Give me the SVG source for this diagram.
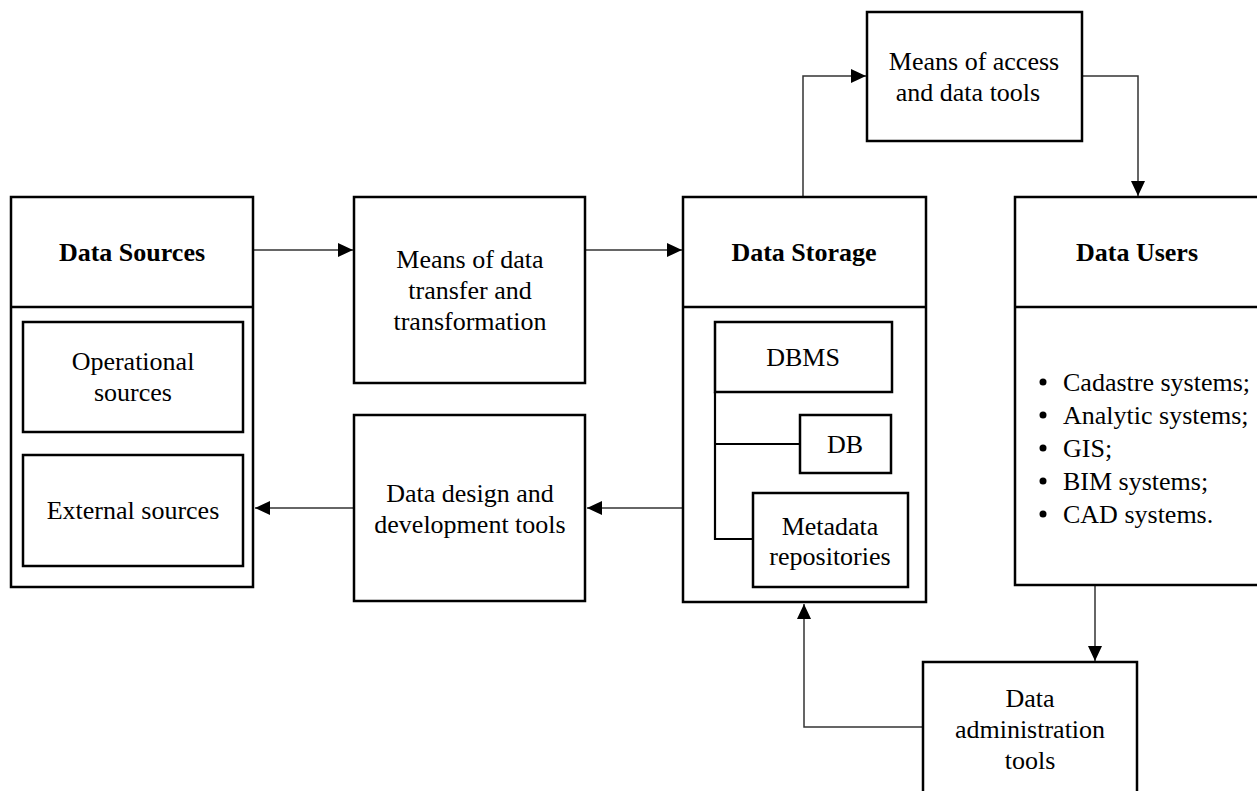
<svg xmlns="http://www.w3.org/2000/svg" width="1257" height="791" viewBox="0 0 1257 791">
<style>
.box{fill:#fff;stroke:#000;stroke-width:2.5}
.div{stroke:#000;stroke-width:2.5;fill:none}
.tree{stroke:#000;stroke-width:2.2;fill:none}
.con{stroke:#333;stroke-width:1.5;fill:none}
text{font-family:"Liberation Serif","Times New Roman",serif;font-size:26px;fill:#000}
.c{text-anchor:middle}
.b{font-weight:bold}
</style>
<defs>
<marker id="ah" markerUnits="userSpaceOnUse" markerWidth="16" markerHeight="16" viewBox="0 0 16 16" refX="15" refY="8" orient="auto">
<path d="M0,1 L15,8 L0,15 Z" fill="#000"/>
</marker>
</defs>
<rect width="1257" height="791" fill="#fff"/>
<g id="connectors">
<line class="con" x1="253" y1="250" x2="353" y2="250" marker-end="url(#ah)"/>
<line class="con" x1="585" y1="250" x2="682" y2="250" marker-end="url(#ah)"/>
<line class="con" x1="683" y1="508" x2="587" y2="508" marker-end="url(#ah)"/>
<line class="con" x1="354" y1="508" x2="255" y2="508" marker-end="url(#ah)"/>
<polyline class="con" points="803,197 803,76 866,76" marker-end="url(#ah)"/>
<polyline class="con" points="1082,76 1138,76 1138,196" marker-end="url(#ah)"/>
<line class="con" x1="1095" y1="586" x2="1095" y2="661" marker-end="url(#ah)"/>
<polyline class="con" points="923,727 804,727 804,604" marker-end="url(#ah)"/>
</g>
<g id="data-sources">
<rect class="box" x="11" y="197" width="242" height="390"/>
<line class="div" x1="11" y1="307" x2="253" y2="307"/>
<text class="c b" x="132" y="261">Data Sources</text>
</g>
<g id="operational-sources">
<rect class="box" x="23" y="322" width="220" height="110"/>
<text class="c" x="133" y="370">Operational</text>
<text class="c" x="133" y="401">sources</text>
</g>
<g id="external-sources">
<rect class="box" x="23" y="455" width="220" height="111"/>
<text class="c" x="133" y="519">External sources</text>
</g>
<g id="means-transfer">
<rect class="box" x="354" y="197" width="231" height="186"/>
<text class="c" x="470" y="268">Means of data</text>
<text class="c" x="470" y="299">transfer and</text>
<text class="c" x="470" y="330">transformation</text>
</g>
<g id="data-design">
<rect class="box" x="354" y="415" width="231" height="186"/>
<text class="c" x="470" y="502">Data design and</text>
<text class="c" x="470" y="533">development tools</text>
</g>
<g id="data-storage">
<rect class="box" x="683" y="197" width="243" height="405"/>
<line class="div" x1="683" y1="307" x2="926" y2="307"/>
<text class="c b" x="804" y="261">Data Storage</text>
<polyline class="tree" points="715,392 715,539 753,539"/>
<line class="tree" x1="715" y1="444" x2="800" y2="444"/>
</g>
<g id="dbms">
<rect class="box" x="715" y="322" width="177" height="70"/>
<text class="c" x="803" y="366">DBMS</text>
</g>
<g id="db">
<rect class="box" x="800" y="415" width="91" height="58"/>
<text class="c" x="845" y="453">DB</text>
</g>
<g id="metadata">
<rect class="box" x="753" y="493" width="155" height="94"/>
<text class="c" x="830" y="535">Metadata</text>
<text class="c" x="830" y="565">repositories</text>
</g>
<g id="means-access">
<rect class="box" x="867" y="12" width="215" height="129"/>
<text class="c" x="974" y="70">Means of access</text>
<text class="c" x="968" y="101">and data tools</text>
</g>
<g id="data-users">
<rect class="box" x="1015" y="197" width="245" height="388"/>
<line class="div" x1="1015" y1="307" x2="1260" y2="307"/>
<text class="c b" x="1137" y="261">Data Users</text>
<circle cx="1043" cy="382" r="3.5"/>
<circle cx="1043" cy="415" r="3.5"/>
<circle cx="1043" cy="448" r="3.5"/>
<circle cx="1043" cy="481" r="3.5"/>
<circle cx="1043" cy="514" r="3.5"/>
<text x="1063" y="391">Cadastre systems;</text>
<text x="1063" y="424">Analytic systems;</text>
<text x="1063" y="457">GIS;</text>
<text x="1063" y="490">BIM systems;</text>
<text x="1063" y="523">CAD systems.</text>
</g>
<g id="data-admin">
<rect class="box" x="923" y="662" width="214" height="140"/>
<text class="c" x="1030" y="707">Data</text>
<text class="c" x="1030" y="738">administration</text>
<text class="c" x="1030" y="769">tools</text>
</g>
</svg>
